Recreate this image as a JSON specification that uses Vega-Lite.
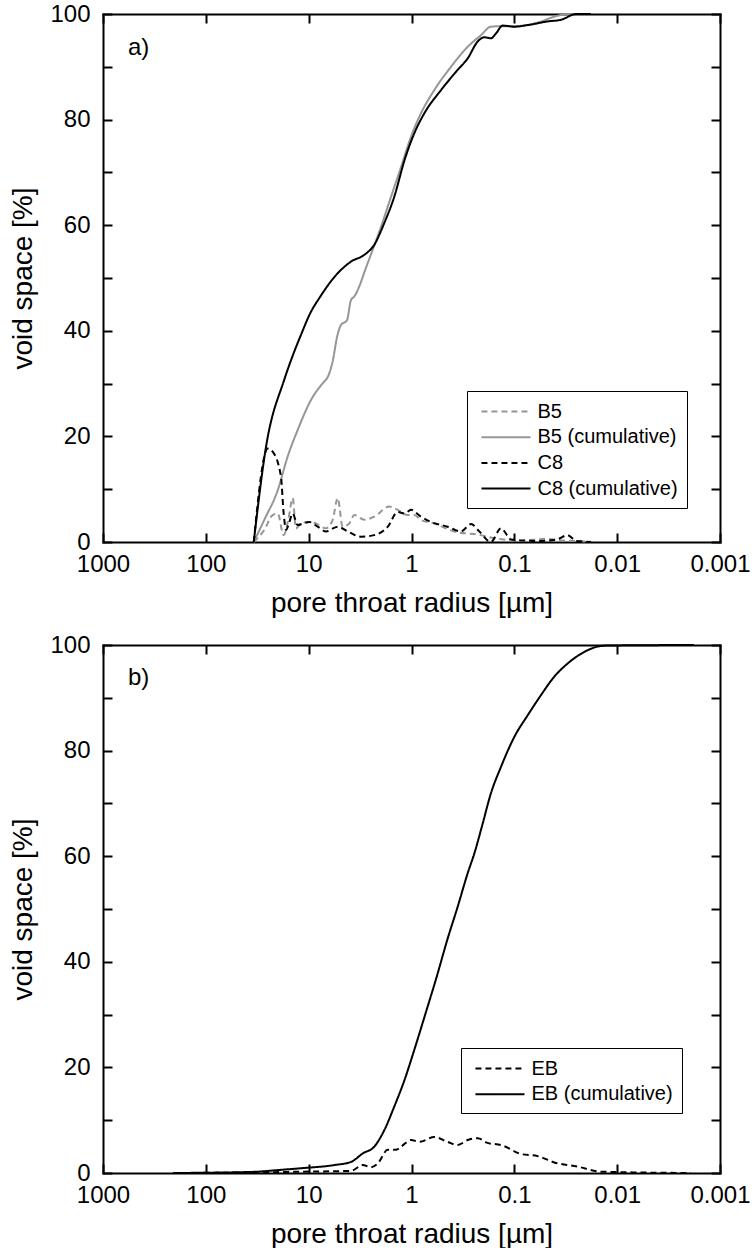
{
  "$schema": "https://vega.github.io/schema/vega-lite/v6.json",
  "background": "white",
  "padding": {"left": 9, "top": 2, "right": 10, "bottom": 0},
  "spacing": 16,
  "resolve": {"scale": {"color": "independent", "strokeDash": "independent"}, "legend": {"color": "independent", "strokeDash": "independent"}},
  "config": {
    "font": "Liberation Sans",
    "view": {"stroke": null},
    "axis": {
      "grid": false,
      "domainColor": "black",
      "domainWidth": 2,
      "domainCap": "square",
      "tickColor": "black",
      "tickWidth": 2,
      "tickSize": -9,
      "labelColor": "black",
      "labelFontSize": 24,
      "labelFont": "Liberation Sans",
      "titleFont": "Liberation Sans",
      "titleFontSize": 28,
      "titleFontWeight": "normal",
      "titleColor": "black",
      "labelFlush": false,
      "labelOverlap": false
    },
    "legend": {
      "labelFont": "Liberation Sans",
      "labelFontSize": 20,
      "labelColor": "black",
      "strokeColor": "black",
      "padding": 8.5,
      "rowPadding": 3.7,
      "symbolType": "M-0.55,0H3.91",
      "symbolSize": 484,
      "symbolStrokeWidth": 2,
      "labelOffset": 38
    }
  },
  "datasets": {
    "a": [
      {"s": "B5", "r": 34.2, "v": 0}, {"s": "B5", "r": 27, "v": 2.3}, {"s": "B5", "r": 22.4, "v": 5.1}, {"s": "B5", "r": 20.0, "v": 5.4}, {"s": "B5", "r": 17.5, "v": 1.3}, {"s": "B5", "r": 15.8, "v": 4.2}, {"s": "B5", "r": 14.3, "v": 8.3}, {"s": "B5", "r": 13.3, "v": 2.6}, {"s": "B5", "r": 11.9, "v": 3.5}, {"s": "B5", "r": 10.2, "v": 3.8}, {"s": "B5", "r": 8.49, "v": 3.5}, {"s": "B5", "r": 6.78, "v": 2.6}, {"s": "B5", "r": 5.84, "v": 4.2}, {"s": "B5", "r": 5.22, "v": 8.3}, {"s": "B5", "r": 4.67, "v": 2.9}, {"s": "B5", "r": 4.03, "v": 3.5}, {"s": "B5", "r": 3.60, "v": 5.1}, {"s": "B5", "r": 2.87, "v": 4.2}, {"s": "B5", "r": 2.30, "v": 4.8}, {"s": "B5", "r": 1.65, "v": 6.7}, {"s": "B5", "r": 1.36, "v": 6.1}, {"s": "B5", "r": 1.09, "v": 5.1}, {"s": "B5", "r": 0.94, "v": 5.1}, {"s": "B5", "r": 0.809, "v": 4.2}, {"s": "B5", "r": 0.600, "v": 3.5}, {"s": "B5", "r": 0.384, "v": 2.0}, {"s": "B5", "r": 0.211, "v": 1.3}, {"s": "B5", "r": 0.157, "v": 0.7}, {"s": "B5", "r": 0.116, "v": 0.4}, {"s": "B5", "r": 0.086, "v": 0.2}, {"s": "B5", "r": 0.069, "v": 0.4}, {"s": "B5", "r": 0.049, "v": 0.6}, {"s": "B5", "r": 0.035, "v": 0.3}, {"s": "B5", "r": 0.025, "v": 0.2}, {"s": "B5", "r": 0.018, "v": 0},
      {"s": "B5 (cumulative)", "r": 34.2, "v": 0}, {"s": "B5 (cumulative)", "r": 27.0, "v": 4.2}, {"s": "B5 (cumulative)", "r": 20.0, "v": 9.8}, {"s": "B5 (cumulative)", "r": 16.0, "v": 16.2}, {"s": "B5 (cumulative)", "r": 12.8, "v": 21.2}, {"s": "B5 (cumulative)", "r": 9.49, "v": 26.9}, {"s": "B5 (cumulative)", "r": 7.05, "v": 30.4}, {"s": "B5 (cumulative)", "r": 6.63, "v": 31}, {"s": "B5 (cumulative)", "r": 5.80, "v": 34.5}, {"s": "B5 (cumulative)", "r": 5.30, "v": 38.8}, {"s": "B5 (cumulative)", "r": 4.85, "v": 41.1}, {"s": "B5 (cumulative)", "r": 4.24, "v": 42}, {"s": "B5 (cumulative)", "r": 3.88, "v": 45.8}, {"s": "B5 (cumulative)", "r": 3.60, "v": 46.5}, {"s": "B5 (cumulative)", "r": 2.67, "v": 52.8}, {"s": "B5 (cumulative)", "r": 1.98, "v": 59.7}, {"s": "B5 (cumulative)", "r": 1.58, "v": 65.4}, {"s": "B5 (cumulative)", "r": 1.26, "v": 71.1}, {"s": "B5 (cumulative)", "r": 1.01, "v": 76.8}, {"s": "B5 (cumulative)", "r": 0.809, "v": 81.2}, {"s": "B5 (cumulative)", "r": 0.600, "v": 85.6}, {"s": "B5 (cumulative)", "r": 0.413, "v": 90.0}, {"s": "B5 (cumulative)", "r": 0.284, "v": 93.8}, {"s": "B5 (cumulative)", "r": 0.211, "v": 96.0}, {"s": "B5 (cumulative)", "r": 0.169, "v": 97.6}, {"s": "B5 (cumulative)", "r": 0.135, "v": 97.7}, {"s": "B5 (cumulative)", "r": 0.100, "v": 97.7}, {"s": "B5 (cumulative)", "r": 0.064, "v": 98.2}, {"s": "B5 (cumulative)", "r": 0.0352, "v": 99.8}, {"s": "B5 (cumulative)", "r": 0.0251, "v": 100}, {"s": "B5 (cumulative)", "r": 0.018, "v": 100},
      {"s": "C8", "r": 34.2, "v": 0}, {"s": "C8", "r": 25.0, "v": 17.7}, {"s": "C8", "r": 22.4, "v": 17.1}, {"s": "C8", "r": 18.6, "v": 12.4}, {"s": "C8", "r": 17.5, "v": 5.4}, {"s": "C8", "r": 16.6, "v": 2.3}, {"s": "C8", "r": 15.4, "v": 3.8}, {"s": "C8", "r": 14.3, "v": 5.4}, {"s": "C8", "r": 12.8, "v": 3.2}, {"s": "C8", "r": 11.4, "v": 3.5}, {"s": "C8", "r": 9.86, "v": 3.8}, {"s": "C8", "r": 8.17, "v": 2.9}, {"s": "C8", "r": 6.78, "v": 2.0}, {"s": "C8", "r": 5.22, "v": 2.9}, {"s": "C8", "r": 4.17, "v": 2.0}, {"s": "C8", "r": 3.10, "v": 1.0}, {"s": "C8", "r": 2.30, "v": 1.3}, {"s": "C8", "r": 1.70, "v": 2.9}, {"s": "C8", "r": 1.36, "v": 5.7}, {"s": "C8", "r": 1.17, "v": 5.4}, {"s": "C8", "r": 1.01, "v": 6.1}, {"s": "C8", "r": 0.809, "v": 4.8}, {"s": "C8", "r": 0.646, "v": 3.8}, {"s": "C8", "r": 0.445, "v": 2.9}, {"s": "C8", "r": 0.330, "v": 2.0}, {"s": "C8", "r": 0.264, "v": 3.4}, {"s": "C8", "r": 0.219, "v": 2.0}, {"s": "C8", "r": 0.169, "v": 0}, {"s": "C8", "r": 0.135, "v": 2.6}, {"s": "C8", "r": 0.108, "v": 0.5}, {"s": "C8", "r": 0.086, "v": 0.3}, {"s": "C8", "r": 0.055, "v": 0.2}, {"s": "C8", "r": 0.0385, "v": 0.5}, {"s": "C8", "r": 0.0303, "v": 1.3}, {"s": "C8", "r": 0.0251, "v": 0.2}, {"s": "C8", "r": 0.018, "v": 0},
      {"s": "C8 (cumulative)", "r": 34.2, "v": 0}, {"s": "C8 (cumulative)", "r": 26.0, "v": 18.0}, {"s": "C8 (cumulative)", "r": 17.3, "v": 30.7}, {"s": "C8 (cumulative)", "r": 14.8, "v": 34.5}, {"s": "C8 (cumulative)", "r": 11.9, "v": 39.2}, {"s": "C8 (cumulative)", "r": 9.5, "v": 43.6}, {"s": "C8 (cumulative)", "r": 7.88, "v": 46.2}, {"s": "C8 (cumulative)", "r": 5.22, "v": 50.9}, {"s": "C8 (cumulative)", "r": 3.88, "v": 53.1}, {"s": "C8 (cumulative)", "r": 2.87, "v": 54.4}, {"s": "C8 (cumulative)", "r": 2.30, "v": 56.3}, {"s": "C8 (cumulative)", "r": 1.84, "v": 60.4}, {"s": "C8 (cumulative)", "r": 1.47, "v": 65.4}, {"s": "C8 (cumulative)", "r": 1.17, "v": 72.3}, {"s": "C8 (cumulative)", "r": 0.94, "v": 77.4}, {"s": "C8 (cumulative)", "r": 0.75, "v": 81.2}, {"s": "C8 (cumulative)", "r": 0.516, "v": 85.6}, {"s": "C8 (cumulative)", "r": 0.356, "v": 89.4}, {"s": "C8 (cumulative)", "r": 0.284, "v": 91.6}, {"s": "C8 (cumulative)", "r": 0.227, "v": 94.8}, {"s": "C8 (cumulative)", "r": 0.196, "v": 95.6}, {"s": "C8 (cumulative)", "r": 0.169, "v": 95.4}, {"s": "C8 (cumulative)", "r": 0.151, "v": 96.3}, {"s": "C8 (cumulative)", "r": 0.130, "v": 97.8}, {"s": "C8 (cumulative)", "r": 0.100, "v": 97.6}, {"s": "C8 (cumulative)", "r": 0.0741, "v": 97.9}, {"s": "C8 (cumulative)", "r": 0.0473, "v": 98.6}, {"s": "C8 (cumulative)", "r": 0.0352, "v": 98.9}, {"s": "C8 (cumulative)", "r": 0.0251, "v": 100}, {"s": "C8 (cumulative)", "r": 0.018, "v": 100}
    ],
    "b": [
      {"s": "EB", "r": 208, "v": 0}, {"s": "EB", "r": 36.4, "v": 0.1}, {"s": "EB", "r": 11.9, "v": 0.25}, {"s": "EB", "r": 3.88, "v": 0.4}, {"s": "EB", "r": 2.98, "v": 1.5}, {"s": "EB", "r": 2.48, "v": 1.1}, {"s": "EB", "r": 2.13, "v": 1.8}, {"s": "EB", "r": 1.70, "v": 4.4}, {"s": "EB", "r": 1.41, "v": 4.4}, {"s": "EB", "r": 1.26, "v": 5.0}, {"s": "EB", "r": 1.01, "v": 6.25}, {"s": "EB", "r": 0.84, "v": 5.9}, {"s": "EB", "r": 0.600, "v": 6.8}, {"s": "EB", "r": 0.445, "v": 5.9}, {"s": "EB", "r": 0.356, "v": 5.3}, {"s": "EB", "r": 0.284, "v": 6.25}, {"s": "EB", "r": 0.227, "v": 6.6}, {"s": "EB", "r": 0.182, "v": 5.7}, {"s": "EB", "r": 0.135, "v": 5.3}, {"s": "EB", "r": 0.086, "v": 3.6}, {"s": "EB", "r": 0.0593, "v": 3.2}, {"s": "EB", "r": 0.0409, "v": 2.0}, {"s": "EB", "r": 0.0242, "v": 1.2}, {"s": "EB", "r": 0.0144, "v": 0.25}, {"s": "EB", "r": 0.00191, "v": 0},
      {"s": "EB (cumulative)", "r": 208, "v": 0}, {"s": "EB (cumulative)", "r": 36.4, "v": 0.2}, {"s": "EB (cumulative)", "r": 18.6, "v": 0.6}, {"s": "EB (cumulative)", "r": 11.9, "v": 0.9}, {"s": "EB (cumulative)", "r": 5.64, "v": 1.5}, {"s": "EB (cumulative)", "r": 3.88, "v": 2.1}, {"s": "EB (cumulative)", "r": 2.98, "v": 3.7}, {"s": "EB (cumulative)", "r": 2.30, "v": 5.0}, {"s": "EB (cumulative)", "r": 1.84, "v": 8.1}, {"s": "EB (cumulative)", "r": 1.47, "v": 12.6}, {"s": "EB (cumulative)", "r": 1.17, "v": 17.6}, {"s": "EB (cumulative)", "r": 0.94, "v": 23.3}, {"s": "EB (cumulative)", "r": 0.723, "v": 30.5}, {"s": "EB (cumulative)", "r": 0.578, "v": 36.7}, {"s": "EB (cumulative)", "r": 0.445, "v": 44.4}, {"s": "EB (cumulative)", "r": 0.356, "v": 50.4}, {"s": "EB (cumulative)", "r": 0.284, "v": 56.8}, {"s": "EB (cumulative)", "r": 0.245, "v": 60.5}, {"s": "EB (cumulative)", "r": 0.203, "v": 66.2}, {"s": "EB (cumulative)", "r": 0.169, "v": 71.9}, {"s": "EB (cumulative)", "r": 0.135, "v": 76.9}, {"s": "EB (cumulative)", "r": 0.100, "v": 82.6}, {"s": "EB (cumulative)", "r": 0.0741, "v": 86.7}, {"s": "EB (cumulative)", "r": 0.0551, "v": 90.5}, {"s": "EB (cumulative)", "r": 0.0409, "v": 94.0}, {"s": "EB (cumulative)", "r": 0.0303, "v": 96.5}, {"s": "EB (cumulative)", "r": 0.0208, "v": 98.7}, {"s": "EB (cumulative)", "r": 0.0155, "v": 99.7}, {"s": "EB (cumulative)", "r": 0.0124, "v": 99.9}, {"s": "EB (cumulative)", "r": 0.00179, "v": 100}
    ]
  },
  "vconcat": [
    {
      "width": 617,
      "height": 528,
      "layer": [
        {
          "data": {"name": "a"},
          "mark": {"type": "line", "strokeWidth": 2, "interpolate": "monotone"},
          "encoding": {
            "x": {"field": "r", "type": "quantitative",
              "scale": {"type": "log", "domain": [0.001, 1000], "reverse": true, "nice": false},
              "axis": {"orient": "bottom", "values": [1000, 100, 10, 1, 0.1, 0.01, 0.001], "format": "~g", "title": "pore throat radius [µm]", "labelPadding": 19, "titlePadding": 13}},
            "y": {"field": "v", "type": "quantitative",
              "scale": {"domain": [0, 100], "nice": false},
              "axis": {"orient": "left", "values": [0, 10, 20, 30, 40, 50, 60, 70, 80, 90, 100], "labelExpr": "datum.value % 20 === 0 ? datum.label : ''", "title": "void space [%]", "labelPadding": 22, "titlePadding": 12}},
            "color": {"field": "s", "type": "nominal",
              "scale": {"domain": ["B5", "B5 (cumulative)", "C8", "C8 (cumulative)"], "range": ["#969696", "#969696", "#000000", "#000000"]},
              "legend": {"title": null, "orient": "none", "legendX": 364, "legendY": 377}},
            "strokeDash": {"field": "s", "type": "nominal",
              "scale": {"domain": ["B5", "B5 (cumulative)", "C8", "C8 (cumulative)"], "range": [[6, 4], [1, 0], [6, 4], [1, 0]]},
              "legend": {"title": null, "orient": "none", "legendX": 364, "legendY": 377}}
          }
        },
        {
          "data": {"values": [{"t": "a)"}]},
          "mark": {"type": "text", "fontSize": 24, "align": "left", "baseline": "alphabetic", "color": "black", "font": "Liberation Sans"},
          "encoding": {
            "x": {"datum": 571, "type": "quantitative",
              "scale": {"type": "log", "domain": [0.001, 1000], "reverse": true, "nice": false},
              "axis": {"orient": "top", "values": [1000, 100, 10, 1, 0.1, 0.01, 0.001], "labels": false, "title": null}},
            "y": {"datum": 92.2, "type": "quantitative",
              "scale": {"domain": [0, 100], "nice": false},
              "axis": {"orient": "right", "values": [0, 10, 20, 30, 40, 50, 60, 70, 80, 90, 100], "labels": false, "title": null}},
            "text": {"field": "t"}
          }
        }
      ],
      "resolve": {"axis": {"x": "independent", "y": "independent"}}
    },
    {
      "width": 617,
      "height": 528,
      "layer": [
        {
          "data": {"name": "b"},
          "mark": {"type": "line", "strokeWidth": 2, "interpolate": "monotone"},
          "encoding": {
            "x": {"field": "r", "type": "quantitative",
              "scale": {"type": "log", "domain": [0.001, 1000], "reverse": true, "nice": false},
              "axis": {"orient": "bottom", "values": [1000, 100, 10, 1, 0.1, 0.01, 0.001], "format": "~g", "title": "pore throat radius [µm]", "labelPadding": 19, "titlePadding": 13}},
            "y": {"field": "v", "type": "quantitative",
              "scale": {"domain": [0, 100], "nice": false},
              "axis": {"orient": "left", "values": [0, 10, 20, 30, 40, 50, 60, 70, 80, 90, 100], "labelExpr": "datum.value % 20 === 0 ? datum.label : ''", "title": "void space [%]", "labelPadding": 22, "titlePadding": 12}},
            "color": {"field": "s", "type": "nominal",
              "scale": {"domain": ["EB", "EB (cumulative)"], "range": ["#000000", "#000000"]},
              "legend": {"title": null, "orient": "none", "legendX": 358, "legendY": 403}},
            "strokeDash": {"field": "s", "type": "nominal",
              "scale": {"domain": ["EB", "EB (cumulative)"], "range": [[6, 4], [1, 0]]},
              "legend": {"title": null, "orient": "none", "legendX": 358, "legendY": 403}}
          }
        },
        {
          "data": {"values": [{"t": "b)"}]},
          "mark": {"type": "text", "fontSize": 24, "align": "left", "baseline": "alphabetic", "color": "black", "font": "Liberation Sans"},
          "encoding": {
            "x": {"datum": 571, "type": "quantitative",
              "scale": {"type": "log", "domain": [0.001, 1000], "reverse": true, "nice": false},
              "axis": {"orient": "top", "values": [1000, 100, 10, 1, 0.1, 0.01, 0.001], "labels": false, "title": null}},
            "y": {"datum": 92.4, "type": "quantitative",
              "scale": {"domain": [0, 100], "nice": false},
              "axis": {"orient": "right", "values": [0, 10, 20, 30, 40, 50, 60, 70, 80, 90, 100], "labels": false, "title": null}},
            "text": {"field": "t"}
          }
        }
      ],
      "resolve": {"axis": {"x": "independent", "y": "independent"}}
    }
  ]
}
